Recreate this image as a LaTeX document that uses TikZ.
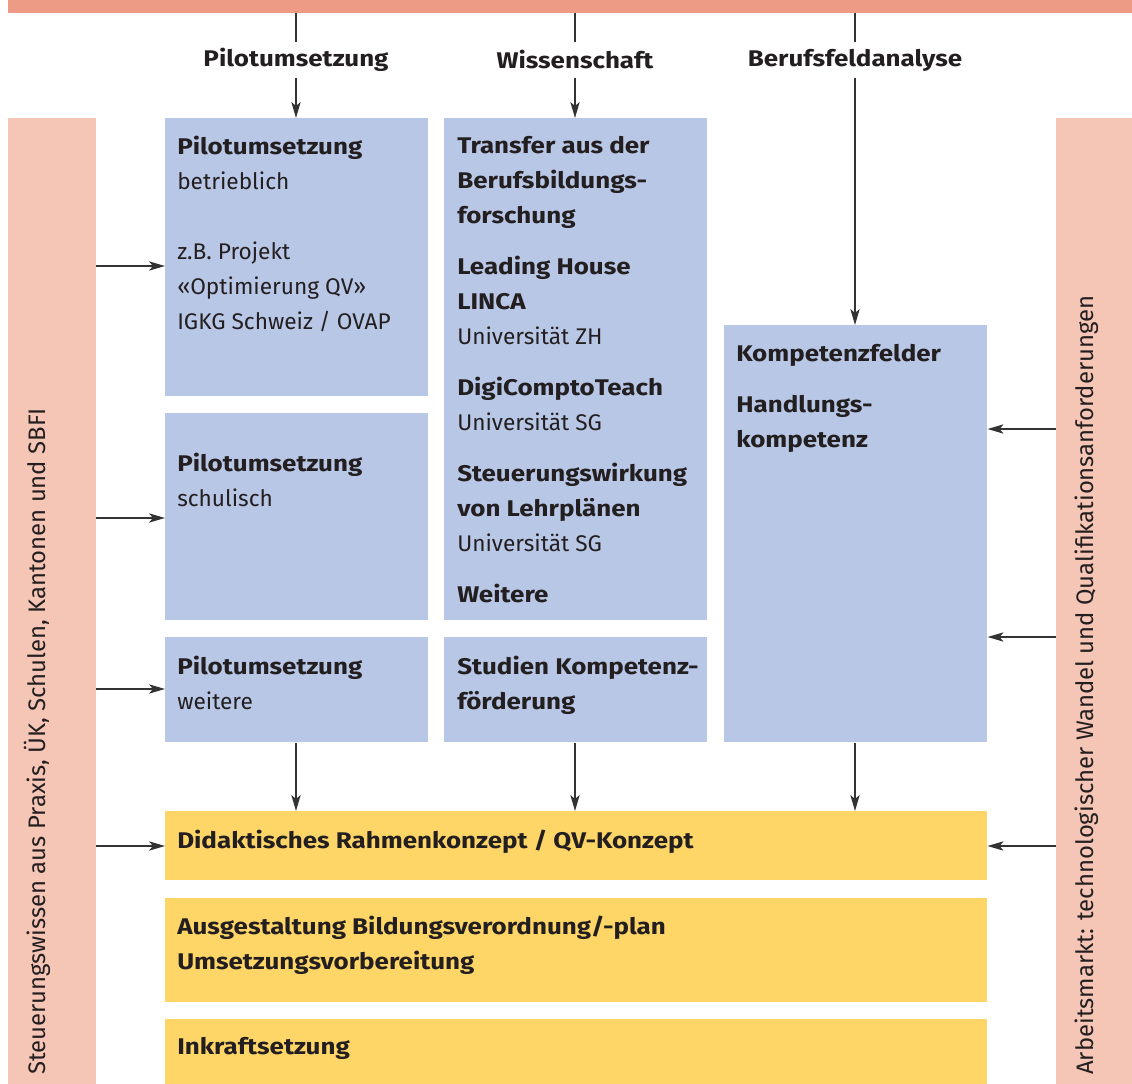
\documentclass[tikz,border=0pt]{standalone}
\usepackage{fontspec}
\setmainfont{Fira Sans}[BoldFeatures={FakeStretch=1.145}]
\usetikzlibrary{arrows.meta}
\definecolor{topred}{HTML}{EE9B85}
\definecolor{sidepink}{HTML}{F5C5B5}
\definecolor{boxblue}{HTML}{B9C7E6}
\definecolor{boxyellow}{HTML}{FED567}
\definecolor{ink}{HTML}{231F20}
\definecolor{lineink}{HTML}{333333}
\begin{document}
\begin{tikzpicture}[x=0.75pt,y=-0.75pt,
  bluebox/.style={fill=boxblue,draw=none},
  yellowbox/.style={fill=boxyellow,draw=none},
  sidebar/.style={fill=sidepink,draw=none},
  txt/.style={anchor=north west,inner sep=0pt,align=left,text=ink,
    font=\fontsize{17}{26.25}\selectfont},
  toplabel/.style={inner sep=2pt,text=ink,font=\fontsize{17}{20}\selectfont\bfseries},
  sidetxt/.style={rotate=90,anchor=base west,inner sep=0pt,text=ink,
    font=\fontsize{17.9}{20}\selectfont},
  conn/.style={draw=lineink,line width=1pt,-{Stealth[length=12pt,width=7pt,inset=3pt]}},
  plainline/.style={draw=lineink,line width=1pt}]
\useasboundingbox (0,0) rectangle (1132,1084);
% bars
\path[fill=topred] (8,0) rectangle (1132,13);
\coordinate (topbar) at (0,13);
\path[sidebar] (8,118) rectangle (96,1084);
\path[sidebar] (1056,118) rectangle (1132,1084);
\coordinate (lbar) at (96,0);
\coordinate (rbar) at (1056,0);
% blue boxes
\node[bluebox,anchor=north west,minimum width=263*0.75pt,minimum height=278*0.75pt,inner sep=0] (p1) at (165,118) {};
\node[bluebox,anchor=north west,minimum width=263*0.75pt,minimum height=207*0.75pt,inner sep=0] (p2) at (165,413) {};
\node[bluebox,anchor=north west,minimum width=263*0.75pt,minimum height=105*0.75pt,inner sep=0] (p3) at (165,637) {};
\node[bluebox,anchor=north west,minimum width=263*0.75pt,minimum height=502*0.75pt,inner sep=0] (w1) at (444,118) {};
\node[bluebox,anchor=north west,minimum width=263*0.75pt,minimum height=105*0.75pt,inner sep=0] (w2) at (444,637) {};
\node[bluebox,anchor=north west,minimum width=263*0.75pt,minimum height=417*0.75pt,inner sep=0] (k) at (724,325) {};
% yellow boxes
\node[yellowbox,anchor=north west,minimum width=822*0.75pt,minimum height=69*0.75pt,inner sep=0] (y1) at (165,811) {};
\node[yellowbox,anchor=north west,minimum width=822*0.75pt,minimum height=104*0.75pt,inner sep=0] (y2) at (165,898) {};
\node[yellowbox,anchor=north west,minimum width=822*0.75pt,minimum height=65*0.75pt,inner sep=0] (y3) at (165,1019) {};
% texts
\node[txt] (tp1) at (177,136) {\textbf{Pilotumsetzung}\\betrieblich\\[26.25pt]z.B. Projekt\\«Optimierung QV»\\IGKG Schweiz / OVAP};
\node[txt] (tp2) at (177,453) {\textbf{Pilotumsetzung}\\schulisch};
\node[txt] (tp3) at (177,656) {\textbf{Pilotumsetzung}\\weitere};
\node[txt] (tw1) at (457,136) {\textbf{Transfer aus der}\\\textbf{Berufsbildungs-}\\\textbf{forschung}\\[12pt]
\textbf{Leading House}\\\textbf{LINCA}\\Universität ZH\\[12pt]
\textbf{DigiComptoTeach}\\Universität SG\\[12pt]
\textbf{Steuerungswirkung}\\\textbf{von Lehrplänen}\\Universität SG\\[12pt]
\textbf{Weitere}};
\node[txt] (tw2) at (457,656) {\textbf{Studien Kompetenz-}\\\textbf{förderung}};
\node[txt] (tk) at (736,344) {\textbf{Kompetenzfelder}\\[12pt]\textbf{Handlungs-}\\\textbf{kompetenz}};
\node[txt] (ty1) at (177,830) {\textbf{Didaktisches Rahmenkonzept / QV-Konzept}};
\node[txt] (ty2) at (177,916) {\textbf{Ausgestaltung Bildungsverordnung/-plan}\\\textbf{Umsetzungsvorbereitung}};
\node[txt] (ty3) at (177,1037) {\textbf{Inkraftsetzung}};
% side texts
\node[sidetxt] (ls) at (45,1075) {Steuerungswissen aus Praxis, ÜK, Schulen, Kantonen und SBFI};
\node[sidetxt] (rs) at (1093,1075) {Arbeitsmarkt: technologischer Wandel und Qualifikationsanforderungen};
% top labels
\node[toplabel] (lp) at (296,60) {Pilotumsetzung};
\node[toplabel] (lw) at (575,60) {Wissenschaft};
\node[toplabel] (lb) at (855,60) {Berufsfeldanalyse};
\draw[plainline] (topbar -| lp) -- (296,42);
\draw[plainline] (topbar -| lw) -- (575,42);
\draw[plainline] (topbar -| lb) -- (855,42);
\draw[conn] (296,78) -- (p1.north -| lp);
\draw[conn] (575,78) -- (w1.north -| lw);
\draw[conn] (855,78) -- (k.north -| lb);
% left arrows
\draw[conn] (lbar |- 0,266) -- (p1.west |- 0,266);
\draw[conn] (lbar |- 0,518) -- (p2.west |- 0,518);
\draw[conn] (lbar |- 0,689) -- (p3.west |- 0,689);
\draw[conn] (lbar |- 0,846) -- (y1.west |- 0,846);
% right arrows
\draw[conn] (rbar |- 0,429) -- (k.east |- 0,429);
\draw[conn] (rbar |- 0,637) -- (k.east |- 0,637);
\draw[conn] (rbar |- 0,846) -- (y1.east |- 0,846);
% down arrows
\draw[conn] (p3.south -| lp) -- (y1.north -| lp);
\draw[conn] (w2.south -| lw) -- (y1.north -| lw);
\draw[conn] (k.south -| lb) -- (y1.north -| lb);
\end{tikzpicture}
\end{document}
